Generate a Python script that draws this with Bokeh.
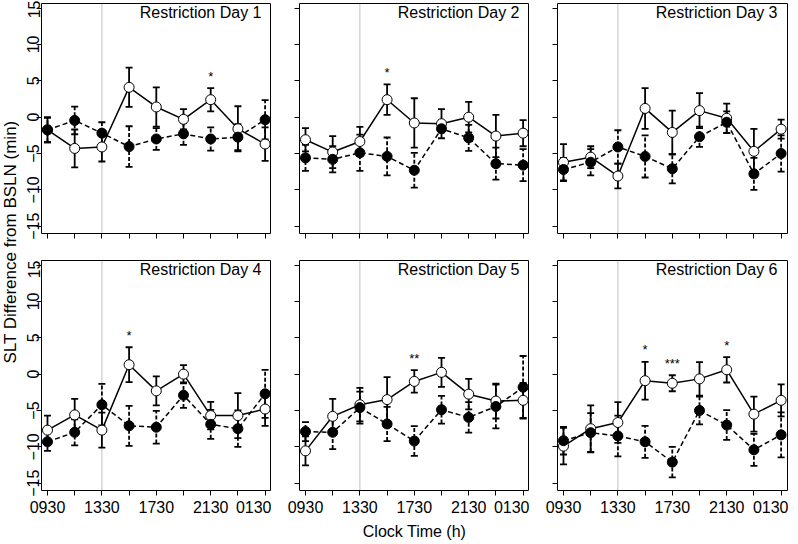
import math
from bokeh.plotting import figure
from bokeh.models import ColumnDataSource, Whisker, TeeHead, Span, Label, FixedTicker, Range1d
from bokeh.layouts import row, column
from bokeh.embed import file_html
from bokeh.resources import INLINE
from bokeh.core.properties import value

FONT = "Liberation Sans"

# ---------------- data ----------------
times = ["0930", "1130", "1330", "1530", "1730", "1930", "2130", "2330", "0130"]
labeled_times = ["0930", "1330", "1730", "2130", "0130"]
y_ticks = [-15, -10, -5, 0, 5, 10, 15]
marker_time = "1330"
titles = ["Restriction Day 1", "Restriction Day 2", "Restriction Day 3",
          "Restriction Day 4", "Restriction Day 5", "Restriction Day 6"]
x_label = "Clock Time (h)"
y_label = "SLT Difference from BSLN (min)"

# open circles (solid line) mean and SE
open_d1 = [-1.75, -4.3, -4.1, 4.1, 1.4, -0.3, 2.4, -1.6, -3.7]
open_se_d1 = [1.7, 2.6, 2.0, 2.7, 2.7, 1.4, 1.6, 3.1, 2.3]
open_d2 = [-3.1, -4.8, -3.35, 2.4, -0.8, -0.9, 0.0, -2.6, -2.2]
open_se_d2 = [1.6, 2.2, 2.0, 2.1, 3.4, 2.0, 2.1, 2.9, 1.8]
open_d3 = [-6.2, -5.5, -8.1, 1.2, -2.1, 0.9, -0.15, -4.7, -1.65]
open_se_d3 = [2.5, 1.5, 1.7, 2.8, 3.0, 2.4, 2.0, 3.1, 1.3]
open_d4 = [-7.7, -5.6, -7.7, 1.3, -2.3, 0.0, -5.7, -5.7, -4.8]
open_se_d4 = [2.0, 2.2, 2.4, 2.4, 2.0, 1.25, 1.9, 3.1, 2.3]
open_d5 = [-10.55, -5.8, -4.2, -3.5, -1.0, 0.25, -2.75, -3.7, -3.6]
open_se_d5 = [2.0, 2.4, 2.3, 3.1, 1.55, 2.0, 2.1, 2.4, 2.4]
open_d6 = [-9.9, -7.5, -6.65, -0.9, -1.25, -0.65, 0.6, -5.5, -3.6]
open_se_d6 = [2.5, 3.2, 2.8, 2.6, 1.1, 2.3, 1.75, 2.4, 2.2]

# filled circles (dashed line) mean and SE
filled_d1 = [-1.75, -0.45, -2.2, -4.05, -3.0, -2.3, -3.0, -2.75, -0.35]
filled_se_d1 = [1.7, 1.9, 1.5, 2.8, 1.5, 1.5, 1.6, 1.8, 2.7]
filled_d2 = [-5.6, -5.8, -4.9, -5.4, -7.3, -1.6, -2.85, -6.4, -6.6]
filled_se_d2 = [1.8, 1.8, 2.5, 2.6, 2.4, 0.5, 1.8, 2.2, 2.2]
filled_d3 = [-7.2, -6.2, -4.1, -5.4, -7.1, -2.7, -0.7, -7.8, -5.0]
filled_se_d3 = [1.6, 1.8, 2.3, 2.9, 2.0, 1.4, 1.5, 2.2, 2.5]
filled_d4 = [-9.3, -8.0, -4.2, -7.1, -7.3, -2.9, -6.9, -7.5, -2.7]
filled_se_d4 = [1.25, 1.8, 2.85, 2.75, 2.25, 1.75, 2.0, 2.5, 3.3]
filled_d5 = [-7.9, -8.0, -4.6, -6.85, -9.2, -4.9, -5.95, -4.45, -1.8]
filled_se_d5 = [1.3, 2.3, 2.2, 2.35, 2.05, 1.9, 2.1, 3.0, 4.3]
filled_d6 = [-9.15, -8.05, -8.5, -9.3, -12.1, -5.0, -7.0, -10.4, -8.35]
filled_se_d6 = [1.9, 2.7, 2.8, 2.2, 2.1, 1.9, 2.05, 2.2, 3.1]

# significance marks
sig_d1 = ["", "", "", "", "", "", "*", "", ""]
sig_d2 = ["", "", "", "*", "", "", "", "", ""]
sig_d3 = ["", "", "", "", "", "", "", "", ""]
sig_d4 = ["", "", "", "*", "", "", "", "", ""]
sig_d5 = ["", "", "", "", "**", "", "", "", ""]
sig_d6 = ["", "", "", "*", "***", "", "*", "", ""]

panels = [
    (open_d1, open_se_d1, filled_d1, filled_se_d1, sig_d1),
    (open_d2, open_se_d2, filled_d2, filled_se_d2, sig_d2),
    (open_d3, open_se_d3, filled_d3, filled_se_d3, sig_d3),
    (open_d4, open_se_d4, filled_d4, filled_se_d4, sig_d4),
    (open_d5, open_se_d5, filled_d5, filled_se_d5, sig_d5),
    (open_d6, open_se_d6, filled_d6, filled_se_d6, sig_d6),
]

# ---------------- layout constants ----------------
FRAME = 230
X_START, X_END = -0.22, 8.235
Y_START, Y_END = -16.0, 15.63
YLAB_W = 19


def make_panel(idx):
    mo, so, mf, sf, sig = panels[idx]
    first_col = idx % 3 == 0
    last_col = idx % 3 == 2
    bottom = idx >= 3
    bl = 22 if first_col else 28
    br = 1 if last_col else 0
    bt = 0 if bottom else 3
    bb = 53 if bottom else 27
    p = figure(width=FRAME + bl + br, height=FRAME + bt + bb,
               output_backend="svg", toolbar_location=None,
               x_range=Range1d(X_START, X_END), y_range=Range1d(Y_START, Y_END),
               min_border_left=bl, min_border_right=br,
               min_border_top=bt, min_border_bottom=bb)
    p.grid.visible = False
    p.outline_line_color = "black"
    p.outline_line_width = 1
    p.background_fill_color = "white"
    p.border_fill_color = "white"

    xs = list(range(len(times)))
    major = [times.index(t) for t in labeled_times]
    minor = [i for i in xs if i not in major]

    xa = p.xaxis[0]
    xa.ticker = FixedTicker(ticks=major, minor_ticks=minor)
    xa.major_label_overrides = {i: times[i] for i in major}
    xa.axis_line_color = None
    xa.major_tick_in = 0
    xa.major_tick_out = 5
    xa.minor_tick_in = 0
    xa.minor_tick_out = 5
    xa.major_tick_line_color = "black"
    xa.minor_tick_line_color = "black"
    xa.major_label_standoff = 5
    xa.major_label_text_font = FONT
    xa.major_label_text_font_size = "16px"
    xa.major_label_text_color = "black" if bottom else None
    if idx == 4:
        xa.axis_label = x_label
        xa.axis_label_text_font = FONT
        xa.axis_label_text_font_size = "16px"
        xa.axis_label_text_font_style = "normal"
        xa.axis_label_text_color = "black"
        xa.axis_label_standoff = 7

    ya = p.yaxis[0]
    ya.ticker = FixedTicker(ticks=y_ticks, minor_ticks=[])
    ya.axis_line_color = None
    ya.major_tick_in = 0
    ya.major_tick_out = 5
    ya.major_tick_line_color = "black"
    ya.major_label_orientation = "parallel"
    ya.major_label_standoff = -3
    ya.major_label_text_font = FONT
    ya.major_label_text_font_size = "16px"
    ya.major_label_text_color = "black" if first_col else None

    p.add_layout(Span(location=times.index(marker_time), dimension="height",
                      line_color="#808080", line_dash="1 1", line_width=1,
                      level="underlay"))

    so_src = ColumnDataSource(dict(x=xs, y=mo,
                                   lo=[m - s for m, s in zip(mo, so)],
                                   hi=[m + s for m, s in zip(mo, so)]))
    sf_src = ColumnDataSource(dict(x=xs, y=mf,
                                   lo=[m - s for m, s in zip(mf, sf)],
                                   hi=[m + s for m, s in zip(mf, sf)]))

    def head():
        return TeeHead(size=7, line_color="black", line_width=1.8)

    p.add_layout(Whisker(base="x", upper="hi", lower="lo", source=so_src,
                         dimension="height", line_color="black", line_width=1.8,
                         upper_head=head(), lower_head=head(), level="underlay"))
    p.add_layout(Whisker(base="x", upper="hi", lower="lo", source=sf_src,
                         dimension="height", line_color="black", line_width=1.8,
                         line_dash="4 2",
                         upper_head=head(), lower_head=head(), level="underlay"))

    p.line("x", "y", source=sf_src, line_color="black", line_width=1.5, line_dash="5 3")
    p.line("x", "y", source=so_src, line_color="black", line_width=1.5)
    p.scatter("x", "y", source=so_src, size=10, fill_color="white",
              line_color="black", line_width=1)
    p.scatter("x", "y", source=sf_src, size=10, fill_color="black",
              line_color="black", line_width=1)

    sx, sy, st = [], [], []
    for i, s in enumerate(sig):
        if s:
            sx.append(i)
            sy.append(mo[i] + so[i])
            st.append(s)
    if st:
        p.text(x=sx, y=sy, text=st, text_font=value(FONT), text_font_size="13px",
               text_align="center", text_baseline="alphabetic", y_offset=-12,
               text_color="black")

    p.add_layout(Label(x=X_END, y=Y_END, x_offset=-10, y_offset=0,
                       text=titles[idx], text_align="right", text_baseline="top",
                       text_font=FONT, text_font_size="16px", text_color="black"))
    return p


figs = [make_panel(i) for i in range(6)]

total_h = figs[0].height + figs[3].height
ylab = figure(width=YLAB_W, height=total_h, output_backend="svg", toolbar_location=None,
              x_range=Range1d(0, YLAB_W), y_range=Range1d(0, total_h), min_border=0,
              x_axis_location=None, y_axis_location=None)
ylab.outline_line_color = None
ylab.grid.visible = False
ylab.add_layout(Label(x=9.5, y=total_h - 241.5, text=y_label, angle=math.pi / 2,
                      text_align="center", text_baseline="alphabetic",
                      text_font=FONT, text_font_size="17px", text_color="black"))

root = row(ylab, column(row(*figs[:3]), row(*figs[3:])))

open("out.html", "w").write(file_html(root, INLINE))
